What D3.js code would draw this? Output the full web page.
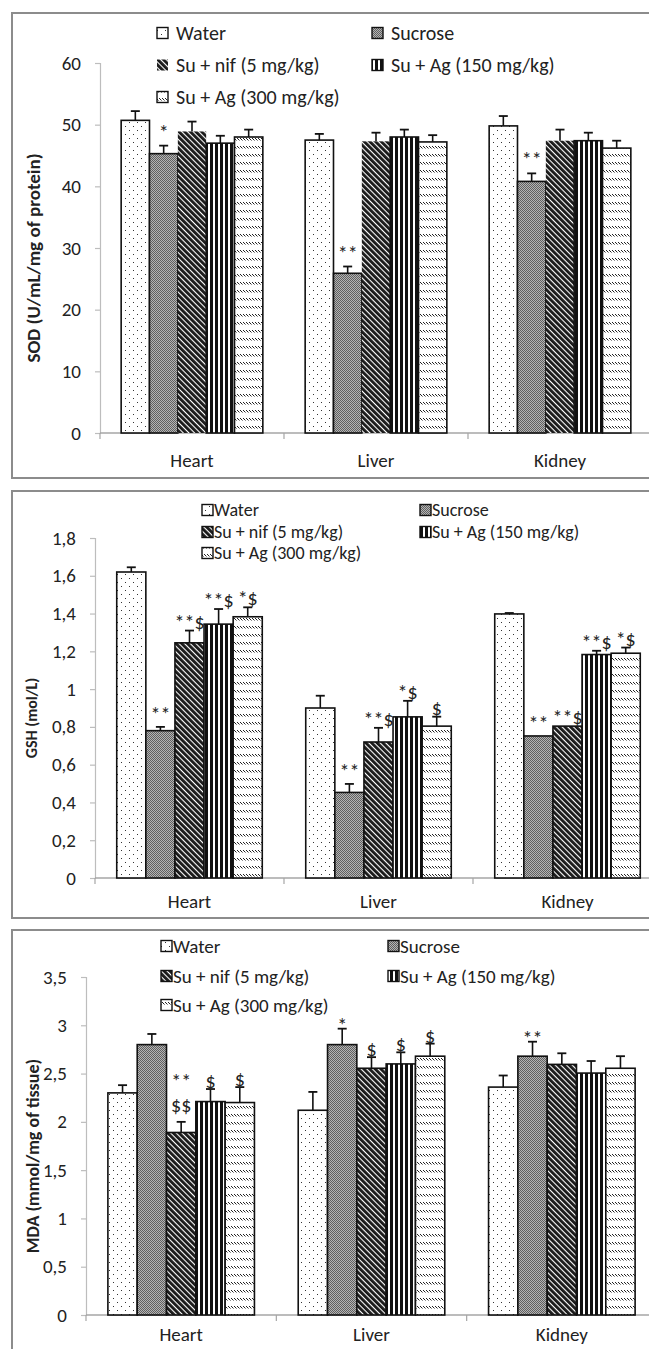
<!DOCTYPE html>
<html>
<head>
<meta charset="utf-8">
<script src="https://cdn.jsdelivr.net/npm/d3@7"></script>
<style>
  body { margin: 0; background: #fff; }
  svg { display: block; }
  text { font-family: Carlito, Calibri, Lato, sans-serif; fill: #222; }
</style>
</head>
<body>
<div id="chart"></div>
<script>
const organs = ["Heart", "Liver", "Kidney"];
const groups = ["Water", "Sucrose", "Su + nif (5 mg/kg)", "Su + Ag (150 mg/kg)", "Su + Ag (300 mg/kg)"];

// SOD (U/mL/mg of protein): rows = organs, cols = groups
const sodMean = [[50.7, 45.3, 48.9, 47.0, 48.0], [47.5, 25.9, 47.3, 48.0, 47.2], [49.8, 40.8, 47.4, 47.4, 46.2]];
const sodErr = [[1.5, 1.3, 1.6, 1.2, 1.2], [1.0, 1.1, 1.4, 1.2, 1.1], [1.6, 1.3, 1.8, 1.3, 1.2]];
const sodMarks = [["", "*", "", "", ""], ["", "**", "", "", ""], ["", "**", "", "", ""]];
const sodTicks = [0, 10, 20, 30, 40, 50, 60];

// GSH (mol/L)
const gshMean = [[1.62, 0.78, 1.245, 1.344, 1.383], [0.90, 0.453, 0.72, 0.853, 0.804], [1.398, 0.752, 0.804, 1.183, 1.19]];
const gshErr = [[0.025, 0.02, 0.065, 0.08, 0.05], [0.065, 0.045, 0.075, 0.085, 0.05], [0.005, 0, 0, 0.02, 0.03]];
const gshMarks = [["", "**", "**$", "**$", "*$"], ["", "**", "**$", "*$", "$"], ["", "**", "**$", "**$", "*$"]];
const gshTicks = [0, 0.2, 0.4, 0.6, 0.8, 1, 1.2, 1.4, 1.6, 1.8];

// MDA (mmol/mg of tissue)
const mdaMean = [[2.30, 2.80, 1.89, 2.21, 2.20], [2.12, 2.80, 2.555, 2.60, 2.68], [2.36, 2.68, 2.595, 2.505, 2.555]];
const mdaErr = [[0.08, 0.11, 0.11, 0.13, 0.16], [0.19, 0.165, 0.115, 0.12, 0.13], [0.12, 0.15, 0.115, 0.125, 0.125]];
const mdaMarks = [["", "", "**\n$$", "$", "$"], ["", "*", "$", "$", "$"], ["", "**", "", "", ""]];
const mdaTicks = [0, 0.5, 1, 1.5, 2, 2.5, 3, 3.5];

const W = 649, H = 1349;
const fmt = d => String(d).replace(".", ",");

// layout of the three stacked charts
const panels = [
  { title: "SOD (U/mL/mg of protein)", mean: sodMean, err: sodErr, marks: sodMarks, ticks: sodTicks,
    boxTop: 13, boxBottom: 478, left: 100, right: 652, top: 63, bottom: 433, titleX: 33, titleSize: 19,
    legRows: [33, 65, 97], legCols: [157, 372], legGap: 19, legFont: 20, nifBorder: false,
    starGap: 7, dolGap: 2, catPad: 21 },
  { title: "GSH (mol/L)", mean: gshMean, err: gshErr, marks: gshMarks, ticks: gshTicks,
    boxTop: 491, boxBottom: 918, left: 95, right: 662, top: 538, bottom: 878, titleX: 31, titleSize: 16,
    legRows: [510, 532, 553], legCols: [202, 420], legGap: 12, legFont: 18, nifBorder: true,
    starGap: 6, dolGap: 2, catPad: 17 },
  { title: "MDA (mmol/mg of tissue)", mean: mdaMean, err: mdaErr, marks: mdaMarks, ticks: mdaTicks,
    boxTop: 930, boxBottom: 1380, left: 86, right: 657, top: 977, bottom: 1315, titleX: 33, titleSize: 18,
    legRows: [946, 976, 1005], legCols: [161, 388], legGap: 12, legFont: 19, nifBorder: true,
    starGap: -3, dolGap: 1, catPad: 13 }
];

const svg = d3.select("#chart").append("svg").attr("width", W).attr("height", H);
svg.append("rect").attr("width", W).attr("height", H).attr("fill", "#fff");

// fill patterns
const defs = svg.append("defs");
const pWater = defs.append("pattern").attr("id", "p0").attr("patternUnits", "userSpaceOnUse").attr("width", 8).attr("height", 8);
pWater.append("rect").attr("width", 8).attr("height", 8).attr("fill", "#fff");
pWater.append("rect").attr("x", 1).attr("y", 2).attr("width", 1).attr("height", 1).attr("fill", "#333");
pWater.append("rect").attr("x", 5).attr("y", 6).attr("width", 1).attr("height", 1).attr("fill", "#333");

const pSuc = defs.append("pattern").attr("id", "p1").attr("patternUnits", "userSpaceOnUse").attr("width", 2).attr("height", 2);
pSuc.append("rect").attr("width", 2).attr("height", 2).attr("fill", "#b4b4b4");
pSuc.append("rect").attr("width", 1).attr("height", 1).attr("fill", "#606060");
pSuc.append("rect").attr("x", 1).attr("y", 1).attr("width", 1).attr("height", 1).attr("fill", "#606060");

const pNif = defs.append("pattern").attr("id", "p2").attr("patternUnits", "userSpaceOnUse")
  .attr("width", 4).attr("height", 4).attr("patternTransform", "rotate(-45)");
pNif.append("rect").attr("width", 4).attr("height", 4).attr("fill", "#fff");
pNif.append("rect").attr("width", 2.9).attr("height", 4).attr("fill", "#1a1a1a");

const pAg1 = defs.append("pattern").attr("id", "p3").attr("patternUnits", "userSpaceOnUse").attr("width", 5).attr("height", 5);
pAg1.append("rect").attr("width", 5).attr("height", 5).attr("fill", "#fff");
pAg1.append("rect").attr("width", 3).attr("height", 5).attr("fill", "#111");

const pAg2 = defs.append("pattern").attr("id", "p4").attr("patternUnits", "userSpaceOnUse").attr("width", 3).attr("height", 8);
pAg2.append("rect").attr("width", 3).attr("height", 8).attr("fill", "#fff");
pAg2.append("path").attr("d", "M-0.5,1.5L2.5,4.5").attr("stroke", "#222").attr("stroke-width", 1);

panels.forEach(p => {
  const g = svg.append("g");

  // outer frame
  g.append("rect").attr("x", 12).attr("y", p.boxTop).attr("width", 700).attr("height", p.boxBottom - p.boxTop)
    .attr("fill", "none").attr("stroke", "#8c8c8c").attr("stroke-width", 2);

  const x0 = d3.scaleBand().domain(organs).range([p.left, p.right]).paddingInner(0.23).paddingOuter(0.115);
  const x1 = d3.scaleBand().domain(groups).range([0, x0.bandwidth()]);
  const y = d3.scaleLinear().domain([0, d3.max(p.ticks)]).range([p.bottom, p.top]);

  // y axis
  const gy = g.append("g").attr("transform", `translate(${p.left},0)`)
    .call(d3.axisLeft(y).tickValues(p.ticks).tickFormat(fmt).tickSize(5).tickPadding(14));
  gy.select(".domain").attr("stroke", "#bdbdbd").attr("stroke-width", 1.2);
  gy.selectAll(".tick line").attr("stroke", "#bdbdbd").attr("stroke-width", 1.2);
  gy.selectAll(".tick text").style("font-size", "19px").attr("fill", "#333");

  // x axis: category labels + boundary ticks
  const gx = g.append("g").attr("transform", `translate(0,${p.bottom})`)
    .call(d3.axisBottom(x0).tickSize(0).tickPadding(p.catPad));
  gx.select(".domain").remove();
  gx.selectAll(".tick text").style("font-size", "19px").attr("fill", "#333");
  const half = (x0.step() - x0.bandwidth()) / 2;
  const bounds = organs.map(o => x0(o) - half).concat([x0(organs[organs.length - 1]) + x0.bandwidth() + half]);
  g.append("line").attr("x1", p.left).attr("x2", W + 20).attr("y1", p.bottom).attr("y2", p.bottom)
    .attr("stroke", "#a6a6a6").attr("stroke-width", 1.3);
  g.selectAll(".sep").data(bounds).join("line")
    .attr("x1", d => d).attr("x2", d => d).attr("y1", p.bottom).attr("y2", p.bottom + 6)
    .attr("stroke", "#a6a6a6").attr("stroke-width", 1.2);

  // y title
  g.append("text")
    .attr("transform", `translate(${p.titleX},${(p.top + p.bottom) / 2 + 10}) rotate(-90)`)
    .attr("text-anchor", "middle").attr("dy", "0.35em")
    .style("font-size", p.titleSize + "px").style("font-weight", "bold").attr("fill", "#111")
    .text(p.title);

  // bars
  const rows = [];
  organs.forEach((o, i) => groups.forEach((s, j) => rows.push({
    organ: o, group: s, j, v: p.mean[i][j], e: p.err[i][j], mark: p.marks[i][j]
  })));

  g.selectAll(".bar").data(rows).join("rect")
    .attr("x", d => x0(d.organ) + x1(d.group))
    .attr("y", d => y(d.v))
    .attr("width", x1.bandwidth())
    .attr("height", d => y(0) - y(d.v))
    .attr("fill", d => `url(#p${d.j})`)
    .attr("stroke", d => (d.j === 2 && !p.nifBorder) ? "none" : "#111")
    .attr("stroke-width", 1.6);

  // error bars (upper only)
  const cx = d => x0(d.organ) + x1(d.group) + x1.bandwidth() / 2;
  const eb = g.selectAll(".err").data(rows.filter(d => d.e > 0)).join("g");
  eb.append("line").attr("x1", cx).attr("x2", cx)
    .attr("y1", d => y(d.v)).attr("y2", d => y(d.v + d.e))
    .attr("stroke", "#111").attr("stroke-width", 1.6);
  eb.append("line").attr("x1", d => cx(d) - 4.5).attr("x2", d => cx(d) + 4.5)
    .attr("y1", d => y(d.v + d.e)).attr("y2", d => y(d.v + d.e))
    .attr("stroke", "#111").attr("stroke-width", 1.8);

  // significance marks
  rows.filter(d => d.mark).forEach(d => {
    const lines = d.mark.split("\n").reverse();
    const top = y(d.v + d.e);
    lines.forEach((t, k) => {
      let base = top - (t.includes("$") ? p.dolGap : p.starGap);
      if (lines.length > 1) base = top - 10 - k * 24;
      g.append("text")
        .attr("x", cx(d)).attr("y", base)
        .attr("text-anchor", "middle")
        .style("font-size", "20px").attr("fill", "#333")
        .text(t);
    });
  });

  // legend
  groups.forEach((s, j) => {
    const lx = p.legCols[j % 2], ly = p.legRows[Math.floor(j / 2)];
    g.append("rect").attr("x", lx).attr("y", ly - 5.5).attr("width", 11).attr("height", 11)
      .attr("fill", `url(#p${j})`)
      .attr("stroke", (j === 2 && !p.nifBorder) ? "none" : "#111").attr("stroke-width", 1.4);
    g.append("text").attr("x", lx + p.legGap).attr("y", ly).attr("dy", "0.35em")
      .style("font-size", p.legFont + "px").attr("fill", "#222").text(s);
  });
});
</script>
</body>
</html>
